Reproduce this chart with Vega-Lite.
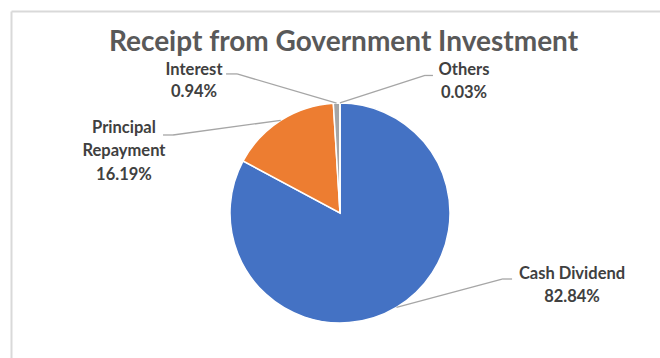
{
  "$schema": "https://vega.github.io/schema/vega-lite/v6.json",
  "width": 649,
  "height": 347,
  "autosize": {"type": "none"},
  "padding": {"left": 11, "top": 11, "right": 0, "bottom": 0},
  "background": "white",
  "view": {"stroke": null},
  "title": {
    "text": "Receipt from Government Investment",
    "font": "Lato",
    "fontSize": 28,
    "fontWeight": "bold",
    "color": "#595959",
    "anchor": "middle",
    "frame": "group",
    "baseline": "alphabetic",
    "offset": 0,
    "dx": 8,
    "dy": 68
  },
  "data": {
    "values": [
      {"category": "Cash Dividend", "share": 82.84},
      {"category": "Principal Repayment", "share": 16.19},
      {"category": "Interest", "share": 0.94},
      {"category": "Others", "share": 0.03}
    ]
  },
  "transform": [
    {"stack": "share", "groupby": [], "as": ["s0", "s1"]},
    {"calculate": "(datum.s0 + datum.s1) / 2", "as": "mid"},
    {"calculate": "sin(2 * PI * datum.mid / 100)", "as": "ex"},
    {"calculate": "cos(2 * PI * datum.mid / 100)", "as": "ey"},
    {"calculate": "format(datum.share, '.2f') + '%'", "as": "pct"}
  ],
  "layer": [
    {
      "mark": {"type": "arc", "radius": 110, "stroke": "white", "strokeWidth": 1.5},
      "encoding": {
        "x": {
          "datum": 0,
          "type": "quantitative",
          "scale": {"domain": [-2.991, 2.909], "nice": false, "zero": false},
          "axis": {"orient": "top", "ticks": false, "labels": false, "grid": false, "title": null, "domainColor": "#D9D9D9", "domainWidth": 2}
        },
        "y": {
          "datum": 0,
          "type": "quantitative",
          "scale": {"domain": [-1.318, 1.836], "nice": false, "zero": false},
          "axis": {"orient": "left", "ticks": false, "labels": false, "grid": false, "title": null, "domainColor": "#D9D9D9", "domainWidth": 2}
        },
        "theta": {"field": "s0", "type": "quantitative", "scale": {"domain": [0, 100]}},
        "theta2": {"field": "s1"},
        "color": {
          "field": "category",
          "type": "nominal",
          "scale": {
            "domain": ["Cash Dividend", "Principal Repayment", "Interest", "Others"],
            "range": ["#4472C4", "#ED7D31", "#A5A5A5", "#FFC000"]
          },
          "legend": null
        }
      }
    },
    {
      "transform": [
        {"filter": "datum.category === 'Cash Dividend'"},
        {"calculate": "datum.category + '\\n' + datum.pct", "as": "label"}
      ],
      "layer": [
        {
          "mark": {"type": "rule", "color": "#A6A6A6", "strokeWidth": 1.3},
          "encoding": {
            "x": {"field": "ex", "type": "quantitative"},
            "y": {"field": "ey", "type": "quantitative"},
            "x2": {"datum": 1.473},
            "y2": {"datum": -0.6}
          }
        },
        {
          "mark": {"type": "rule", "color": "#A6A6A6", "strokeWidth": 1.3},
          "encoding": {
            "x": {"datum": 1.473, "type": "quantitative"},
            "x2": {"datum": 1.564},
            "y": {"datum": -0.6, "type": "quantitative"}
          }
        },
        {
          "mark": {"type": "text", "font": "Lato", "fontSize": 16.5, "fontWeight": "bold", "color": "#404040", "lineBreak": "\n", "lineHeight": 22.5, "align": "center", "baseline": "middle"},
          "encoding": {
            "x": {"datum": 2.109, "type": "quantitative"},
            "y": {"datum": -0.5545, "type": "quantitative"},
            "text": {"field": "label"}
          }
        }
      ]
    },
    {
      "transform": [
        {"filter": "datum.category === 'Principal Repayment'"},
        {"calculate": "replace(datum.category, ' ', '\\n') + '\\n' + datum.pct", "as": "label"}
      ],
      "layer": [
        {
          "mark": {"type": "rule", "color": "#A6A6A6", "strokeWidth": 1.3},
          "encoding": {
            "x": {"field": "ex", "type": "quantitative"},
            "y": {"field": "ey", "type": "quantitative"},
            "x2": {"datum": -1.518},
            "y2": {"datum": 0.709}
          }
        },
        {
          "mark": {"type": "rule", "color": "#A6A6A6", "strokeWidth": 1.3},
          "encoding": {
            "x": {"datum": -1.518, "type": "quantitative"},
            "x2": {"datum": -1.609},
            "y": {"datum": 0.709, "type": "quantitative"}
          }
        },
        {
          "mark": {"type": "text", "font": "Lato", "fontSize": 16.5, "fontWeight": "bold", "color": "#404040", "lineBreak": "\n", "lineHeight": 23.5, "align": "center", "baseline": "middle"},
          "encoding": {
            "x": {"datum": -1.964, "type": "quantitative"},
            "y": {"datum": 0.773, "type": "quantitative"},
            "text": {"field": "label"}
          }
        }
      ]
    },
    {
      "transform": [
        {"filter": "datum.category === 'Interest'"},
        {"calculate": "datum.category + '\\n' + datum.pct", "as": "label"}
      ],
      "layer": [
        {
          "mark": {"type": "rule", "color": "#A6A6A6", "strokeWidth": 1.3},
          "encoding": {
            "x": {"field": "ex", "type": "quantitative"},
            "y": {"field": "ey", "type": "quantitative"},
            "x2": {"datum": -0.936},
            "y2": {"datum": 1.264}
          }
        },
        {
          "mark": {"type": "rule", "color": "#A6A6A6", "strokeWidth": 1.3},
          "encoding": {
            "x": {"datum": -0.936, "type": "quantitative"},
            "x2": {"datum": -1.036},
            "y": {"datum": 1.264, "type": "quantitative"}
          }
        },
        {
          "mark": {"type": "text", "font": "Lato", "fontSize": 16.5, "fontWeight": "bold", "color": "#404040", "lineBreak": "\n", "lineHeight": 22.5, "align": "center", "baseline": "middle"},
          "encoding": {
            "x": {"datum": -1.327, "type": "quantitative"},
            "y": {"datum": 1.3, "type": "quantitative"},
            "text": {"field": "label"}
          }
        }
      ]
    },
    {
      "transform": [
        {"filter": "datum.category === 'Others'"},
        {"calculate": "datum.category + '\\n' + datum.pct", "as": "label"}
      ],
      "layer": [
        {
          "mark": {"type": "rule", "color": "#A6A6A6", "strokeWidth": 1.3},
          "encoding": {
            "x": {"field": "ex", "type": "quantitative"},
            "y": {"field": "ey", "type": "quantitative"},
            "x2": {"datum": 0.773},
            "y2": {"datum": 1.25}
          }
        },
        {
          "mark": {"type": "rule", "color": "#A6A6A6", "strokeWidth": 1.3},
          "encoding": {
            "x": {"datum": 0.773, "type": "quantitative"},
            "x2": {"datum": 0.845},
            "y": {"datum": 1.25, "type": "quantitative"}
          }
        },
        {
          "mark": {"type": "text", "font": "Lato", "fontSize": 16.5, "fontWeight": "bold", "color": "#404040", "lineBreak": "\n", "lineHeight": 22.5, "align": "center", "baseline": "middle"},
          "encoding": {
            "x": {"datum": 1.127, "type": "quantitative"},
            "y": {"datum": 1.2955, "type": "quantitative"},
            "text": {"field": "label"}
          }
        }
      ]
    }
  ]
}
